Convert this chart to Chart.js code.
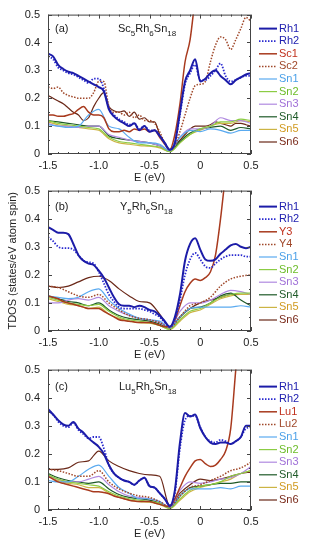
<!DOCTYPE html>
<html>
<head>
<meta charset="utf-8">
<script src="https://cdn.jsdelivr.net/npm/chart.js@4.4.0/dist/chart.umd.min.js"></script>
<style>
  body { margin: 0; background: #fff; width: 312px; height: 550px; position: relative; overflow: hidden; }
  canvas { position: absolute; left: 0; }
</style>
</head>
<body>
<canvas id="pa" width="312" height="186" style="top:0px"></canvas>
<canvas id="pb" width="312" height="190" style="top:176px"></canvas>
<canvas id="pc" width="312" height="195" style="top:355px"></canvas>
<script>
// energy grids (eV)
const E05 = [-1.5,-1.45,-1.4,-1.35,-1.3,-1.25,-1.2,-1.15,-1.1,-1.05,-1.0,-0.95,-0.9,-0.85,-0.8,-0.75,-0.7,-0.65,-0.6,-0.55,-0.5,-0.45,-0.4,-0.35,-0.3,-0.25,-0.2,-0.15,-0.1,-0.05,0,0.05,0.1,0.15,0.2,0.25,0.3,0.35,0.4,0.45,0.5];
const E10 = [-1.5,-1.4,-1.3,-1.2,-1.1,-1.0,-0.9,-0.8,-0.7,-0.6,-0.5,-0.4,-0.3,-0.2,-0.1,0,0.1,0.2,0.3,0.4,0.5];

// (a) Sc5Rh6Sn18
const LABELS_A = ["Rh1","Rh2","Sc1","Sc2","Sn1","Sn2","Sn3","Sn4","Sn5","Sn6"];
const A_RH1 = [0.36,0.35,0.32,0.305,0.295,0.29,0.28,0.27,0.26,0.25,0.24,0.225,0.16,0.135,0.12,0.11,0.10,0.11,0.085,0.10,0.08,0.085,0.065,0.04,0.015,0.04,0.15,0.26,0.30,0.34,0.26,0.27,0.29,0.30,0.28,0.265,0.25,0.265,0.275,0.285,0.29];
const A_RH2 = [0.35,0.34,0.31,0.30,0.29,0.285,0.275,0.265,0.255,0.27,0.27,0.235,0.165,0.14,0.125,0.115,0.105,0.11,0.09,0.10,0.085,0.085,0.065,0.04,0.015,0.04,0.14,0.25,0.29,0.32,0.265,0.265,0.28,0.30,0.325,0.28,0.26,0.265,0.275,0.28,0.28];
const A_SC1 = [0.14,0.14,0.135,0.135,0.14,0.145,0.16,0.17,0.15,0.14,0.14,0.13,0.09,0.08,0.08,0.085,0.08,0.09,0.085,0.09,0.08,0.085,0.06,0.035,0.015,0.07,0.18,0.33,0.41,0.56,0.7,0.85,1.0,1.1,1.2,1.3,1.4,1.5,1.6,1.7,1.8];
const A_SC2 = [0.24,0.235,0.24,0.22,0.21,0.205,0.2,0.2,0.2,0.22,0.26,0.26,0.17,0.15,0.15,0.14,0.15,0.13,0.14,0.12,0.12,0.11,0.08,0.04,0.015,0.03,0.08,0.14,0.2,0.245,0.25,0.26,0.33,0.39,0.42,0.41,0.375,0.41,0.45,0.49,0.475];
const A_SN1 = [0.105,0.1,0.095,0.1,0.14,0.16,0.1,0.09,0.06,0.04,0.04,0.035,0.012,0.06,0.085,0.08,0.09,0.085,0.075,0.085,0.085];
const A_SN2 = [0.12,0.11,0.105,0.1,0.095,0.09,0.06,0.045,0.04,0.035,0.03,0.025,0.008,0.04,0.07,0.09,0.1,0.115,0.115,0.125,0.12];
const A_SN3 = [0.11,0.1,0.1,0.095,0.1,0.1,0.07,0.06,0.05,0.045,0.04,0.03,0.01,0.06,0.09,0.09,0.1,0.13,0.12,0.12,0.11];
const A_SN4 = [0.12,0.115,0.11,0.105,0.1,0.1,0.065,0.055,0.05,0.045,0.04,0.03,0.01,0.045,0.075,0.09,0.095,0.1,0.085,0.095,0.09];
const A_SN5 = [0.115,0.105,0.1,0.095,0.09,0.085,0.055,0.04,0.035,0.03,0.028,0.022,0.008,0.04,0.07,0.085,0.1,0.11,0.11,0.12,0.115];
const A_SN6 = [0.21,0.2,0.19,0.18,0.165,0.15,0.14,0.12,0.13,0.17,0.2,0.22,0.17,0.155,0.15,0.155,0.135,0.15,0.125,0.13,0.115,0.115,0.07,0.04,0.015,0.03,0.05,0.07,0.09,0.1,0.1,0.1,0.105,0.115,0.11,0.105,0.1,0.11,0.11,0.105,0.1];

// (b) Y5Rh6Sn18
const LABELS_B = ["Rh1","Rh2","Y3","Y4","Sn1","Sn2","Sn3","Sn4","Sn5","Sn6"];
const B_RH1 = [0.37,0.36,0.35,0.35,0.345,0.31,0.27,0.25,0.24,0.235,0.215,0.19,0.155,0.12,0.095,0.09,0.09,0.085,0.09,0.085,0.075,0.07,0.055,0.035,0.015,0.05,0.13,0.25,0.31,0.33,0.29,0.255,0.25,0.255,0.275,0.29,0.305,0.31,0.3,0.295,0.3];
const B_RH2 = [0.335,0.32,0.3,0.295,0.295,0.29,0.27,0.25,0.245,0.24,0.21,0.17,0.13,0.105,0.085,0.08,0.08,0.08,0.08,0.075,0.07,0.06,0.05,0.03,0.015,0.04,0.11,0.2,0.255,0.278,0.255,0.23,0.225,0.24,0.255,0.265,0.27,0.27,0.27,0.265,0.265];
const B_Y3 = [0.125,0.12,0.115,0.105,0.1,0.095,0.09,0.085,0.08,0.08,0.08,0.07,0.06,0.05,0.04,0.037,0.035,0.032,0.03,0.03,0.03,0.027,0.02,0.015,0.015,0.04,0.09,0.14,0.17,0.185,0.18,0.19,0.21,0.27,0.4,0.56,0.7,0.85,1.0,1.15,1.3];
const B_Y4 = [0.16,0.155,0.14,0.125,0.12,0.13,0.1,0.075,0.055,0.045,0.04,0.03,0.012,0.05,0.09,0.1,0.12,0.16,0.185,0.195,0.2];
const B_SN1 = [0.125,0.12,0.115,0.12,0.14,0.15,0.11,0.08,0.06,0.045,0.04,0.035,0.012,0.05,0.08,0.085,0.085,0.085,0.085,0.09,0.085];
const B_SN2 = [0.12,0.11,0.1,0.095,0.09,0.095,0.07,0.05,0.04,0.035,0.03,0.02,0.006,0.04,0.07,0.08,0.1,0.12,0.13,0.135,0.135];
const B_SN3 = [0.1,0.1,0.11,0.115,0.11,0.12,0.09,0.07,0.055,0.045,0.04,0.03,0.01,0.07,0.1,0.1,0.11,0.13,0.145,0.14,0.13];
const B_SN4 = [0.125,0.115,0.105,0.1,0.09,0.1,0.075,0.055,0.045,0.04,0.035,0.025,0.01,0.05,0.08,0.085,0.1,0.125,0.135,0.11,0.09];
const B_SN5 = [0.115,0.105,0.095,0.09,0.08,0.085,0.06,0.045,0.035,0.03,0.028,0.02,0.005,0.035,0.065,0.075,0.095,0.115,0.125,0.13,0.13];
const B_SN6 = [0.16,0.155,0.16,0.175,0.19,0.195,0.18,0.15,0.125,0.105,0.1,0.06,0.015,0.05,0.08,0.1,0.11,0.12,0.13,0.13,0.13];

// (c) Lu5Rh6Sn18
const LABELS_C = ["Rh1","Rh2","Lu1","Lu2","Sn1","Sn2","Sn3","Sn4","Sn5","Sn6"];
const C_RH1 = [0.36,0.34,0.32,0.305,0.3,0.313,0.29,0.275,0.255,0.24,0.225,0.2,0.16,0.13,0.115,0.105,0.1,0.09,0.105,0.115,0.085,0.08,0.06,0.04,0.015,0.07,0.24,0.345,0.333,0.34,0.292,0.26,0.24,0.235,0.24,0.24,0.235,0.245,0.26,0.3,0.3];
const C_RH2 = [0.355,0.34,0.315,0.3,0.295,0.31,0.285,0.27,0.255,0.26,0.26,0.22,0.16,0.13,0.115,0.105,0.1,0.09,0.105,0.115,0.085,0.08,0.06,0.04,0.015,0.06,0.22,0.32,0.335,0.335,0.295,0.26,0.245,0.24,0.25,0.245,0.235,0.245,0.26,0.29,0.295];
const C_LU1 = [0.12,0.11,0.1,0.095,0.09,0.085,0.08,0.075,0.07,0.065,0.065,0.062,0.058,0.05,0.045,0.04,0.035,0.032,0.03,0.03,0.03,0.025,0.02,0.015,0.012,0.04,0.08,0.12,0.15,0.175,0.18,0.165,0.155,0.16,0.18,0.21,0.29,0.5,0.7,0.9,1.1];
const C_LU2 = [0.145,0.14,0.13,0.12,0.12,0.14,0.1,0.075,0.06,0.05,0.045,0.03,0.012,0.05,0.08,0.09,0.105,0.12,0.14,0.15,0.17];
const C_SN1 = [0.105,0.1,0.1,0.12,0.145,0.16,0.12,0.08,0.06,0.04,0.04,0.03,0.01,0.05,0.075,0.075,0.075,0.08,0.075,0.085,0.085];
const C_SN2 = [0.125,0.11,0.1,0.095,0.09,0.085,0.065,0.05,0.04,0.035,0.03,0.025,0.006,0.04,0.07,0.085,0.09,0.1,0.12,0.13,0.14];
const C_SN3 = [0.12,0.11,0.1,0.1,0.11,0.12,0.09,0.065,0.05,0.045,0.04,0.03,0.01,0.07,0.1,0.095,0.1,0.11,0.115,0.13,0.155];
const C_SN4 = [0.13,0.115,0.105,0.1,0.095,0.1,0.075,0.055,0.045,0.04,0.035,0.025,0.008,0.05,0.08,0.085,0.09,0.095,0.095,0.1,0.1];
const C_SN5 = [0.12,0.105,0.095,0.09,0.08,0.08,0.06,0.045,0.035,0.03,0.028,0.02,0.005,0.035,0.065,0.08,0.09,0.1,0.11,0.13,0.14];
const C_SN6 = [0.145,0.145,0.15,0.17,0.175,0.21,0.175,0.155,0.14,0.13,0.125,0.12,0.015,0.06,0.09,0.11,0.105,0.11,0.12,0.13,0.135];

// one style per legend row, same order in every panel
const STYLE = [
  { line: "#1c1ca8", text: "#2020b0", width: 2, dash: [] },
  { line: "#2a2ad0", text: "#2020b0", width: 1.8, dash: [1.5, 1.5] },
  { line: "#a83a1e", text: "#c0301c", width: 1.5, dash: [] },
  { line: "#a0482a", text: "#a0482a", width: 1.5, dash: [1.5, 1.5] },
  { line: "#5aaaf0", text: "#4aa0e8", width: 1.2, dash: [] },
  { line: "#8ccc44", text: "#6cbc28", width: 1.2, dash: [] },
  { line: "#b08ae0", text: "#a070d8", width: 1.2, dash: [] },
  { line: "#1e5a28", text: "#1e5a28", width: 1.2, dash: [] },
  { line: "#ccb444", text: "#d09a20", width: 1.2, dash: [] },
  { line: "#6a2818", text: "#7a2a1a", width: 1.2, dash: [] },
];

const FONT = '"Liberation Sans", Arial, sans-serif';

// frame, inward ticks, legend and panel labels
const decor = {
  id: "decor",
  afterDatasetsDraw(chart, args, opts) {
    const { ctx, chartArea: a, scales: { x, y } } = chart;
    ctx.save();
    ctx.strokeStyle = "#444";
    ctx.lineWidth = 1;
    ctx.setLineDash([]);
    ctx.strokeRect(a.left + 0.5, a.top + 0.5, a.width - 1, a.height - 1);
    ctx.beginPath();
    for (let i = 0; i <= 20; i++) {
      const px = Math.round(x.getPixelForValue(-1.5 + i * 0.1)) + 0.5;
      const len = i % 5 === 0 ? 4 : 2;
      ctx.moveTo(px, a.bottom); ctx.lineTo(px, a.bottom - len);
      ctx.moveTo(px, a.top); ctx.lineTo(px, a.top + len);
    }
    for (let i = 0; i <= 10; i++) {
      const py = Math.round(y.getPixelForValue(i * 0.05)) + 0.5;
      const len = i % 2 === 0 ? 4 : 2;
      ctx.moveTo(a.left, py); ctx.lineTo(a.left + len, py);
      ctx.moveTo(a.right, py); ctx.lineTo(a.right - len, py);
    }
    ctx.stroke();

    // legend
    ctx.textBaseline = "middle";
    ctx.textAlign = "left";
    ctx.font = "11px " + FONT;
    chart.data.datasets.forEach((ds, i) => {
      const ly = a.top + opts.top + i * 12.6;
      ctx.beginPath();
      ctx.strokeStyle = STYLE[i].line;
      ctx.lineWidth = STYLE[i].width;
      ctx.setLineDash(STYLE[i].dash);
      ctx.moveTo(259, ly); ctx.lineTo(277, ly);
      ctx.stroke();
      ctx.fillStyle = STYLE[i].text;
      ctx.fillText(ds.label, 279, ly);
    });

    // panel letter and compound
    const ty = a.top + opts.top;
    ctx.fillStyle = "#222";
    ctx.font = "11px " + FONT;
    ctx.fillText(opts.letter, 55, ty);
    let fx = opts.fx;
    for (const [t, sub] of opts.formula) {
      ctx.font = (sub ? "8px " : "11px ") + FONT;
      ctx.fillText(t, fx, sub ? ty + 5 : ty);
      fx += ctx.measureText(t).width;
    }
    ctx.restore();
  },
};

function makePanel(id, labels, series, o) {
  const datasets = series.map((vals, i) => {
    const xs = vals.length === E05.length ? E05 : E10;
    return {
      label: labels[i],
      data: vals.map((v, k) => ({ x: xs[k], y: v })),
      borderColor: STYLE[i].line,
      borderWidth: STYLE[i].width,
      borderDash: STYLE[i].dash,
      pointRadius: 0,
      cubicInterpolationMode: "monotone",
      fill: false,
    };
  });
  return new Chart(document.getElementById(id), {
    type: "line",
    data: { datasets },
    options: {
      responsive: false,
      animation: false,
      devicePixelRatio: 1,
      layout: { padding: { top: o.padTop, right: 61, bottom: o.padBottom, left: 0 } },
      plugins: {
        legend: { display: false },
        tooltip: { enabled: false },
        decor: { top: o.legendTop, letter: o.letter, formula: o.formula, fx: o.fx },
      },
      scales: {
        x: {
          type: "linear",
          min: -1.5,
          max: 0.5,
          grid: { display: false, drawTicks: false },
          border: { display: false },
          ticks: { stepSize: 0.5, padding: 5, color: "#222", font: { family: FONT, size: 11 } },
          title: { display: true, text: "E (eV)", color: "#222", padding: 0, font: { family: FONT, size: 11 } },
          afterFit(s) { s.height = 31; },
        },
        y: {
          min: 0,
          max: 0.5,
          grid: { display: false, drawTicks: false },
          border: { display: false },
          ticks: { stepSize: 0.1, padding: 8, color: "#222", font: { family: FONT, size: 11 } },
          title: {
            display: !!o.yTitle,
            text: o.yTitle || "",
            color: "#222",
            padding: { top: 6, bottom: 0 },
            font: { family: FONT, size: 11 },
          },
          afterFit(s) { s.width = 48; },
        },
      },
    },
    plugins: [decor],
  });
}

makePanel("pa", LABELS_A,
  [A_RH1, A_RH2, A_SC1, A_SC2, A_SN1, A_SN2, A_SN3, A_SN4, A_SN5, A_SN6],
  { padTop: 13, padBottom: 1, legendTop: 14, letter: "(a)", fx: 118,
    formula: [["Sc", 0], ["5", 1], ["Rh", 0], ["6", 1], ["Sn", 0], ["18", 1]] });

makePanel("pb", LABELS_B,
  [B_RH1, B_RH2, B_Y3, B_Y4, B_SN1, B_SN2, B_SN3, B_SN4, B_SN5, B_SN6],
  { padTop: 12, padBottom: 4, legendTop: 16, letter: "(b)", fx: 120,
    yTitle: "TDOS (states/eV atom spin)",
    formula: [["Y", 0], ["5", 1], ["Rh", 0], ["6", 1], ["Sn", 0], ["18", 1]] });

makePanel("pc", LABELS_C,
  [C_RH1, C_RH2, C_LU1, C_LU2, C_SN1, C_SN2, C_SN3, C_SN4, C_SN5, C_SN6],
  { padTop: 12, padBottom: 9, legendTop: 17, letter: "(c)", fx: 119,
    formula: [["Lu", 0], ["5", 1], ["Rh", 0], ["6", 1], ["Sn", 0], ["18", 1]] });
</script>
</body>
</html>
